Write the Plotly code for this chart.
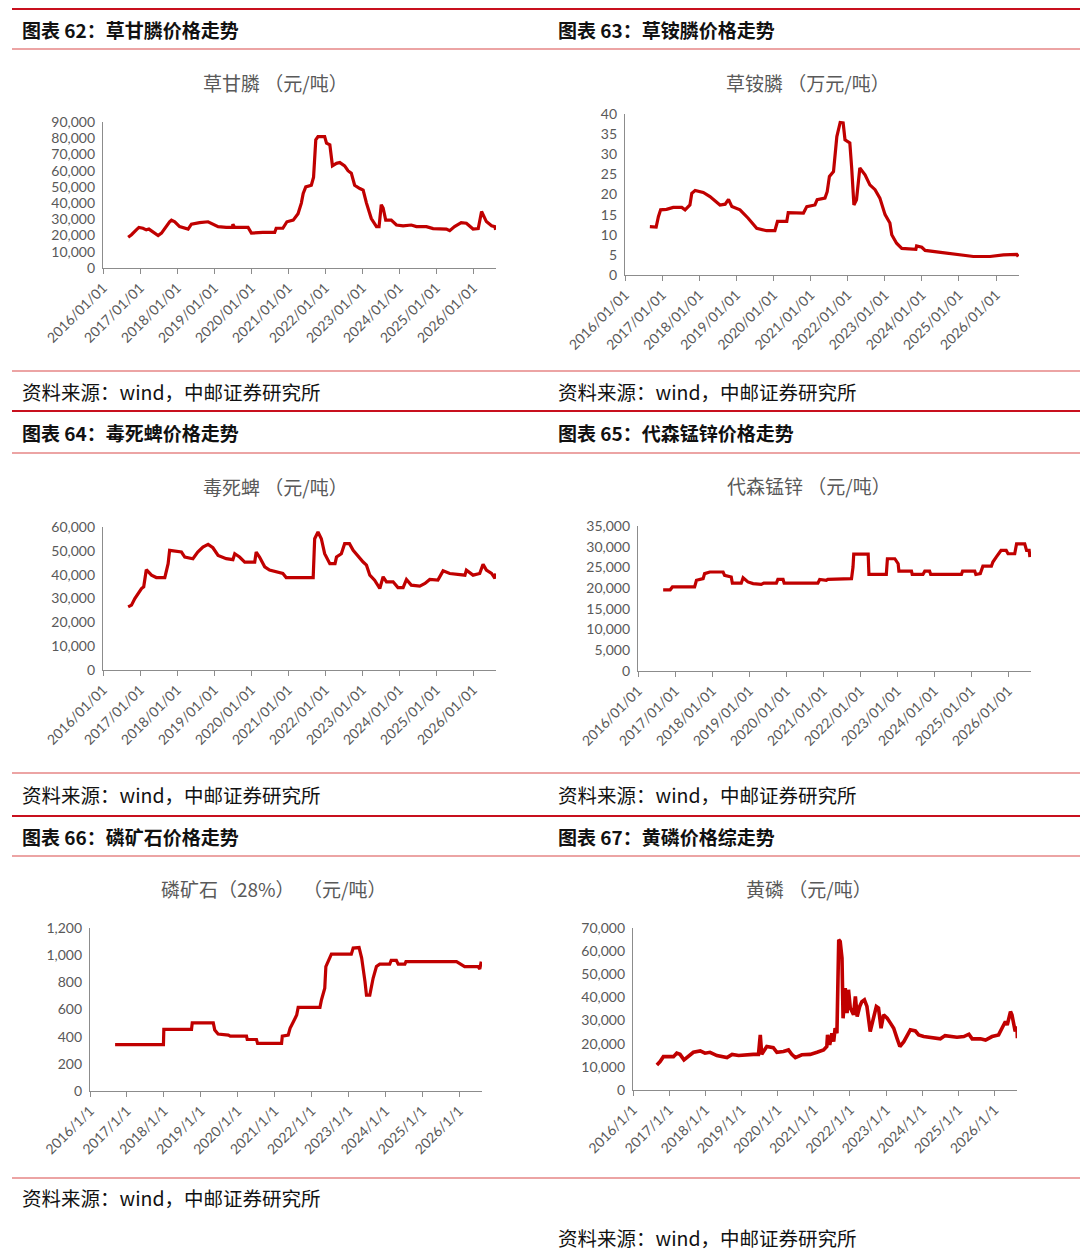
import plotly.graph_objects as go

W, H = 1080, 1253
RED = "#C00000"

year_ticks = list(range(2016, 2027))
tick_text_long = [f"{y}/01/01" for y in year_ticks]
tick_text_short = [f"{y}/1/1" for y in year_ticks]

# 图表62 草甘膦 (元/吨)
gly_x = [2016.68, 2016.77, 2016.90, 2016.97, 2017.08, 2017.17, 2017.24, 2017.35, 2017.49, 2017.58,
         2017.67, 2017.80, 2017.85, 2017.94, 2018.07, 2018.30, 2018.39, 2018.61, 2018.84, 2018.97,
         2019.11, 2019.33, 2019.50, 2019.51, 2019.56, 2019.92, 2020.01, 2020.32, 2020.64, 2020.68,
         2020.86, 2020.97, 2021.14, 2021.27, 2021.36, 2021.41, 2021.48, 2021.63, 2021.69, 2021.75,
         2021.81, 2021.99, 2022.04, 2022.13, 2022.20, 2022.31, 2022.40, 2022.53, 2022.62, 2022.71,
         2022.80, 2022.94, 2023.03, 2023.12, 2023.25, 2023.39, 2023.46, 2023.52, 2023.57, 2023.64,
         2023.79, 2023.93, 2024.11, 2024.33, 2024.47, 2024.74, 2024.92, 2025.28, 2025.37, 2025.50,
         2025.68, 2025.82, 2026.00, 2026.14, 2026.23, 2026.36, 2026.50, 2026.59, 2026.61]
gly_y = [19000, 20500, 23500, 25000, 24500, 23500, 24000, 22000, 20000, 21500,
         24500, 28500, 29500, 28500, 25500, 24000, 27000, 28000, 28500, 27000,
         25500, 25000, 25000, 27000, 25000, 25000, 21500, 22000, 22000, 24500,
         24500, 28500, 29500, 33500, 40000, 46000, 50000, 51000, 56000, 79000,
         81000, 81000, 77000, 76000, 63000, 64500, 65000, 63000, 60000, 58500,
         51000, 49000, 48000, 40000, 30500, 25500, 25500, 39000, 37000, 29500,
         29500, 26500, 26000, 26500, 25500, 25500, 24300, 24000, 23000, 25500,
         28000, 27600, 24000, 24300, 34800, 28600, 26000, 25500, 23500]

# 图表63 草铵膦 (万元/吨)
glu_x = [2016.67, 2016.84, 2016.90, 2016.96, 2017.12, 2017.30, 2017.53, 2017.62, 2017.75, 2017.80,
         2017.89, 2018.11, 2018.29, 2018.43, 2018.56, 2018.70, 2018.79, 2018.88, 2019.10, 2019.32,
         2019.55, 2019.82, 2020.04, 2020.11, 2020.36, 2020.40, 2020.81, 2020.90, 2021.12, 2021.18,
         2021.39, 2021.45, 2021.51, 2021.62, 2021.71, 2021.80, 2021.88, 2021.93, 2022.06, 2022.11,
         2022.17, 2022.24, 2022.33, 2022.47, 2022.60, 2022.74, 2022.87, 2023.01, 2023.14, 2023.19,
         2023.32, 2023.46, 2023.68, 2023.84, 2023.86, 2024.00, 2024.09, 2024.49, 2024.94, 2025.39,
         2025.84, 2026.20, 2026.56, 2026.60]
glu_y = [12.0, 11.9, 14.5, 16.2, 16.3, 16.8, 16.8, 16.2, 17.4, 20.3,
         21.0, 20.5, 19.5, 18.3, 17.4, 17.6, 18.8, 17.0, 16.2, 14.1,
         11.6, 11.0, 11.0, 13.3, 13.3, 15.5, 15.4, 17.0, 17.4, 18.7,
         19.1, 20.7, 24.5, 25.7, 34.4, 37.9, 37.8, 33.6, 32.8, 26.6,
         17.4, 18.7, 26.6, 24.9, 22.4, 21.2, 19.1, 15.0, 12.9, 10.0,
         7.9, 6.6, 6.4, 6.4, 7.2, 6.9, 6.1, 5.6, 5.0, 4.6,
         4.6, 5.0, 5.1, 4.6]

# 图表64 毒死蜱 (元/吨)
chl_x = [2016.68, 2016.77, 2016.86, 2016.95, 2017.04, 2017.10, 2017.17, 2017.31, 2017.44, 2017.67,
         2017.76, 2017.80, 2017.94, 2018.12, 2018.21, 2018.43, 2018.56, 2018.70, 2018.84, 2018.97,
         2019.11, 2019.33, 2019.51, 2019.56, 2019.69, 2019.83, 2020.10, 2020.14, 2020.23, 2020.37,
         2020.50, 2020.68, 2020.86, 2020.95, 2021.23, 2021.68, 2021.72, 2021.81, 2021.90, 2021.99,
         2022.13, 2022.27, 2022.31, 2022.44, 2022.53, 2022.66, 2022.76, 2022.90, 2023.03, 2023.12,
         2023.21, 2023.34, 2023.48, 2023.57, 2023.66, 2023.84, 2023.97, 2024.11, 2024.20, 2024.33,
         2024.56, 2024.70, 2024.83, 2025.05, 2025.19, 2025.37, 2025.78, 2025.82, 2026.00, 2026.18,
         2026.27, 2026.36, 2026.50, 2026.59, 2026.61]
chl_y = [26500, 27200, 30000, 32100, 34200, 34900, 42100, 39800, 38800, 38800,
         44600, 50200, 50000, 49500, 47400, 46700, 49500, 51600, 52700, 51300,
         48100, 46700, 46300, 48800, 47400, 45300, 45300, 49500, 47400, 43300,
         41900, 41200, 40500, 38800, 38800, 38800, 55100, 57900, 55100, 48800,
         44600, 44600, 47400, 48800, 53000, 53000, 50200, 47400, 45300, 44000,
         39800, 37700, 34200, 39100, 37000, 37000, 34600, 34600, 38000, 35600,
         35200, 36300, 38000, 37700, 41600, 40500, 39800, 41900, 39800, 40500,
         44400, 41900, 40500, 38400, 40500]

# 图表65 代森锰锌 (元/吨)
man_x = [2016.68, 2016.87, 2016.93, 2017.53, 2017.58, 2017.76, 2017.80, 2017.94, 2018.30, 2018.34,
         2018.52, 2018.55, 2018.79, 2018.84, 2018.97, 2019.11, 2019.33, 2019.40, 2019.74, 2019.78,
         2019.92, 2019.95, 2020.86, 2020.91, 2021.09, 2021.13, 2021.77, 2021.81, 2021.83, 2022.22,
         2022.24, 2022.71, 2022.74, 2022.94, 2023.03, 2023.05, 2023.39, 2023.41, 2023.70, 2023.75,
         2023.88, 2023.91, 2024.74, 2024.77, 2025.10, 2025.13, 2025.25, 2025.32, 2025.55, 2025.59,
         2025.68, 2025.81, 2025.95, 2026.00, 2026.18, 2026.23, 2026.45, 2026.50, 2026.57, 2026.59]
man_y = [19600, 19600, 20300, 20300, 21900, 22300, 23500, 23900, 23900, 23100,
         22700, 21200, 21200, 22500, 21500, 21100, 20900, 21200, 21200, 22100,
         22100, 21200, 21200, 22100, 21900, 22100, 22300, 25100, 28200, 28200,
         23300, 23300, 27100, 27100, 25900, 24100, 24100, 23300, 23300, 24100,
         24100, 23300, 23300, 24100, 24100, 23300, 23500, 25300, 25300, 26300,
         27500, 29100, 29100, 28300, 28300, 30700, 30700, 29100, 29100, 27500]

# 图表66 磷矿石(28%) (元/吨)
rock_x = [2016.68, 2017.99, 2018.00, 2018.75, 2018.77, 2019.34, 2019.38, 2019.47, 2019.75, 2019.80,
          2020.24, 2020.26, 2020.51, 2020.54, 2021.19, 2021.21, 2021.37, 2021.42, 2021.51, 2021.60,
          2021.64, 2022.23, 2022.27, 2022.36, 2022.39, 2022.50, 2022.54, 2023.08, 2023.13, 2023.29,
          2023.36, 2023.45, 2023.49, 2023.58, 2023.67, 2023.76, 2023.85, 2024.12, 2024.16, 2024.30,
          2024.35, 2024.53, 2024.56, 2025.93, 2026.15, 2026.51, 2026.56, 2026.60]
rock_y = [342, 342, 453, 453, 502, 502, 448, 419, 411, 404,
          404, 379, 379, 350, 350, 404, 411, 461, 510, 559,
          616, 616, 670, 756, 916, 983, 1007, 1007, 1052, 1056,
          978, 805, 706, 706, 830, 916, 934, 934, 961, 961,
          934, 934, 953, 953, 916, 916, 899, 953]

# 图表67 黄磷 (元/吨)
yp_x = [2016.66, 2016.75, 2016.84, 2016.98, 2017.12, 2017.21, 2017.30, 2017.41, 2017.53, 2017.67,
        2017.86, 2017.99, 2018.13, 2018.32, 2018.60, 2018.74, 2018.92, 2019.15, 2019.33, 2019.47,
        2019.52, 2019.56, 2019.65, 2019.70, 2019.88, 2019.98, 2020.16, 2020.30, 2020.39, 2020.49,
        2020.67, 2020.90, 2021.09, 2021.27, 2021.36, 2021.38, 2021.44, 2021.50, 2021.55, 2021.59,
        2021.64, 2021.69, 2021.73, 2021.78, 2021.81, 2021.87, 2021.92, 2021.96, 2022.01, 2022.10,
        2022.15, 2022.20, 2022.27, 2022.33, 2022.40, 2022.47, 2022.56, 2022.64, 2022.73, 2022.79,
        2022.86, 2022.93, 2023.03, 2023.12, 2023.21, 2023.30, 2023.38, 2023.49, 2023.58, 2023.67,
        2023.81, 2023.90, 2024.04, 2024.18, 2024.32, 2024.50, 2024.63, 2024.78, 2024.96, 2025.15,
        2025.29, 2025.38, 2025.61, 2025.75, 2025.93, 2026.11, 2026.20, 2026.30, 2026.35, 2026.44,
        2026.48, 2026.57, 2026.62, 2026.63]
yp_y = [10800, 12300, 14400, 14400, 14400, 15900, 15400, 13000, 14400, 16300,
        16900, 15900, 16300, 14900, 14000, 15400, 14900, 15400, 15400, 15400,
        23800, 15400, 18000, 18800, 18300, 16300, 16600, 17300, 15400, 14000,
        15200, 15400, 16300, 17300, 18800, 23800, 19500, 24500, 20900, 26700,
        24500, 64900, 64200, 57000, 31000, 44000, 33200, 43300, 35400, 32500,
        40400, 31700, 36100, 38200, 39000, 36100, 25300, 31000, 36100, 35400,
        26700, 32500, 31000, 28900, 26700, 22400, 18800, 20900, 23800, 26000,
        25500, 23800, 23100, 22700, 22400, 22100, 23500, 23100, 22800, 23100,
        24100, 22100, 22100, 21600, 23100, 23800, 26700, 29600, 28100, 33900,
        32500, 25300, 27400, 22400]

X_RANGE = [2016, 2026.62]

# panel layout in pixels: plot box (x0, x1, y0, y1), chart-title centre
panels = [
    dict(x=gly_x, y=gly_y, box=(103, 496, 122, 268), title="草甘膦 （元/吨）", tc=(275, 82),
         ymax=90000, dtick=10000, ticks=tick_text_long, lw=3.2),
    dict(x=glu_x, y=glu_y, box=(625, 1019, 114, 275), title="草铵膦 （万元/吨）", tc=(808, 82),
         ymax=40, dtick=5, ticks=tick_text_long, lw=3.2),
    dict(x=chl_x, y=chl_y, box=(103, 496, 527, 670), title="毒死蜱 （元/吨）", tc=(275, 486),
         ymax=60000, dtick=10000, ticks=tick_text_long, lw=3.2),
    dict(x=man_x, y=man_y, box=(638, 1031, 526, 671), title="代森锰锌 （元/吨）", tc=(809, 485),
         ymax=35000, dtick=5000, ticks=tick_text_long, lw=3.2),
    dict(x=rock_x, y=rock_y, box=(90, 482, 928, 1091), title="磷矿石（28%）  （元/吨）", tc=(274, 888),
         ymax=1200, dtick=200, ticks=tick_text_short, lw=3.2),
    dict(x=yp_x, y=yp_y, box=(633, 1017, 928, 1090), title="黄磷 （元/吨）", tc=(809, 888),
         ymax=70000, dtick=10000, ticks=tick_text_short, lw=3.6),
]

headers = [
    ("图表 62：草甘膦价格走势", 20, 30), ("图表 63：草铵膦价格走势", 556, 30),
    ("图表 64：毒死蜱价格走势", 20, 433), ("图表 65：代森锰锌价格走势", 556, 433),
    ("图表 66：磷矿石价格走势", 20, 836), ("图表 67：黄磷价格综走势", 556, 836),
]
source_text = "资料来源：wind，中邮证券研究所"
sources = [(20, 391), (556, 391), (20, 794), (556, 794), (20, 1197), (556, 1237)]
thick_lines = [9, 411, 816]
thin_lines = [49, 371, 453, 773, 856, 1178]


def px(x):
    return x / W


def py(y):
    return 1 - y / H


CJK = "Noto Sans CJK SC"
GRAY = "#595959"
AXIS = "#8C8C8C"

fig = go.Figure()
layout = dict(width=W, height=H, margin=dict(l=0, r=0, t=0, b=0, autoexpand=False),
              template="none", paper_bgcolor="white", plot_bgcolor="white", showlegend=False)
annotations = []
shapes = []

for i, p in enumerate(panels):
    n = "" if i == 0 else str(i + 1)
    x0, x1, y0, y1 = p["box"]
    fig.add_trace(go.Scatter(x=p["x"], y=p["y"], mode="lines",
                             line=dict(color=RED, width=p["lw"]),
                             xaxis="x" + n, yaxis="y" + n))
    layout["xaxis" + n] = dict(
        domain=[px(x0), px(x1)], range=X_RANGE, anchor="y" + n, automargin=False,
        tickmode="array", tickvals=year_ticks, ticktext=p["ticks"], tickangle=-45,
        showline=True, linecolor=AXIS, linewidth=1.3, ticks="outside", ticklen=5,
        tickcolor=AXIS, showgrid=False, zeroline=False,
        tickfont=dict(family="Lato", size=14, color=GRAY))
    layout["yaxis" + n] = dict(
        domain=[py(y1), py(y0)], range=[0, p["ymax"]], dtick=p["dtick"], anchor="x" + n,
        automargin=False, tickformat=",", showline=True, linecolor=AXIS, linewidth=1.3,
        showgrid=False, zeroline=False, ticks="", ticklabelstandoff=4,
        tickfont=dict(family="Lato", size=14, color=GRAY))
    annotations.append(dict(text=p["title"], x=px(p["tc"][0]), y=py(p["tc"][1]),
                            xref="paper", yref="paper", showarrow=False,
                            xanchor="center", yanchor="middle",
                            font=dict(family=CJK, size=19, color=GRAY)))

for text, x, y in headers:
    annotations.append(dict(text="<b>" + text + "</b>", x=px(x), y=py(y), xref="paper", yref="paper",
                            showarrow=False, xanchor="left", yanchor="middle",
                            font=dict(family=CJK, size=19, color="#111111")))

for x, y in sources:
    annotations.append(dict(text=source_text, x=px(x), y=py(y), xref="paper", yref="paper",
                            showarrow=False, xanchor="left", yanchor="middle",
                            font=dict(family=CJK, size=19.5, color="#111111")))

for y in thick_lines:
    shapes.append(dict(type="line", xref="paper", yref="paper", x0=px(12), x1=1,
                       y0=py(y), y1=py(y), line=dict(color="#C8101E", width=2.2)))
for y in thin_lines:
    shapes.append(dict(type="line", xref="paper", yref="paper", x0=px(12), x1=1,
                       y0=py(y), y1=py(y), line=dict(color="#D94B4B", width=1.2)))

layout["annotations"] = annotations
layout["shapes"] = shapes
fig.update_layout(**layout)

# drop the browser's default body margin so the figure sits at the page corner
fig.write_html("out.html", config={"displayModeBar": False},
               post_script="document.body.style.margin='0';")
